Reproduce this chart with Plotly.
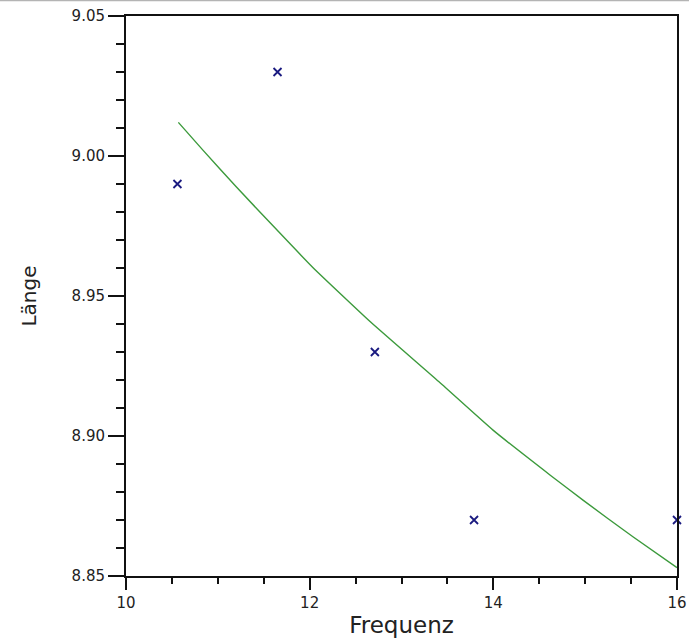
import plotly.graph_objects as go

# Measured pairs: frequency vs. length
frequenz = [10.56, 11.65, 12.71, 13.79, 16.0]
laenge = [8.99, 9.03, 8.93, 8.87, 8.87]

# Fitted curve, sampled along its course
fit_x = [10.57, 10.84, 11.20, 11.66, 12.04, 12.67, 13.42, 14.00, 14.62, 14.98, 15.52, 16.00]
fit_y = [9.012, 9.002, 8.989, 8.973, 8.960, 8.9405, 8.919, 8.902, 8.886, 8.877, 8.864, 8.853]

x_ticks = [10, 12, 14, 16]
y_ticks = [8.85, 8.90, 8.95, 9.00, 9.05]

font_family = "DejaVu Sans"

fig = go.Figure()
fig.add_trace(go.Scatter(
    x=fit_x, y=fit_y, mode="lines",
    line=dict(color="#3c9a3c", width=1.4, shape="spline", smoothing=0.4),
    showlegend=False, hoverinfo="skip",
))
fig.add_trace(go.Scatter(
    x=frequenz, y=laenge, mode="markers",
    marker=dict(symbol="x-thin", size=8, line=dict(color="#1a1a80", width=1.8)),
    cliponaxis=False, showlegend=False,
))

axis_common = dict(
    showgrid=False, zeroline=False, automargin=False,
    showline=True, linecolor="#111111", linewidth=2, mirror=True,
    ticks="outside", tickcolor="#111111", tickwidth=2,
    tickfont=dict(family=font_family, size=15, color="#222222"),
)

fig.update_xaxes(
    **axis_common,
    range=[10, 16], tickvals=x_ticks, ticklen=12,
    minor=dict(dtick=0.5, ticklen=6, ticks="outside", tickcolor="#111111", tickwidth=2),
    title=dict(text="Frequenz", font=dict(family=font_family, size=23, color="#222222"), standoff=6),
)
fig.update_yaxes(
    **axis_common,
    range=[8.85, 9.05], tickvals=y_ticks, tickformat=".2f", ticklen=16,
    minor=dict(dtick=0.01, ticklen=8, ticks="outside", tickcolor="#111111", tickwidth=2),
    title=dict(text="Länge", font=dict(family=font_family, size=20, color="#222222"), standoff=30),
)

# thin grey rule across the top of the page
fig.add_shape(type="line", xref="paper", yref="paper",
              x0=-0.25, x1=1.05, y0=1.0277, y1=1.0277,
              line=dict(color="#b4b4b4", width=1.5))

fig.update_layout(
    width=689, height=644,
    margin=dict(l=126, r=12, t=16, b=68),
    paper_bgcolor="white", plot_bgcolor="white",
)

fig.write_html("out.html")
